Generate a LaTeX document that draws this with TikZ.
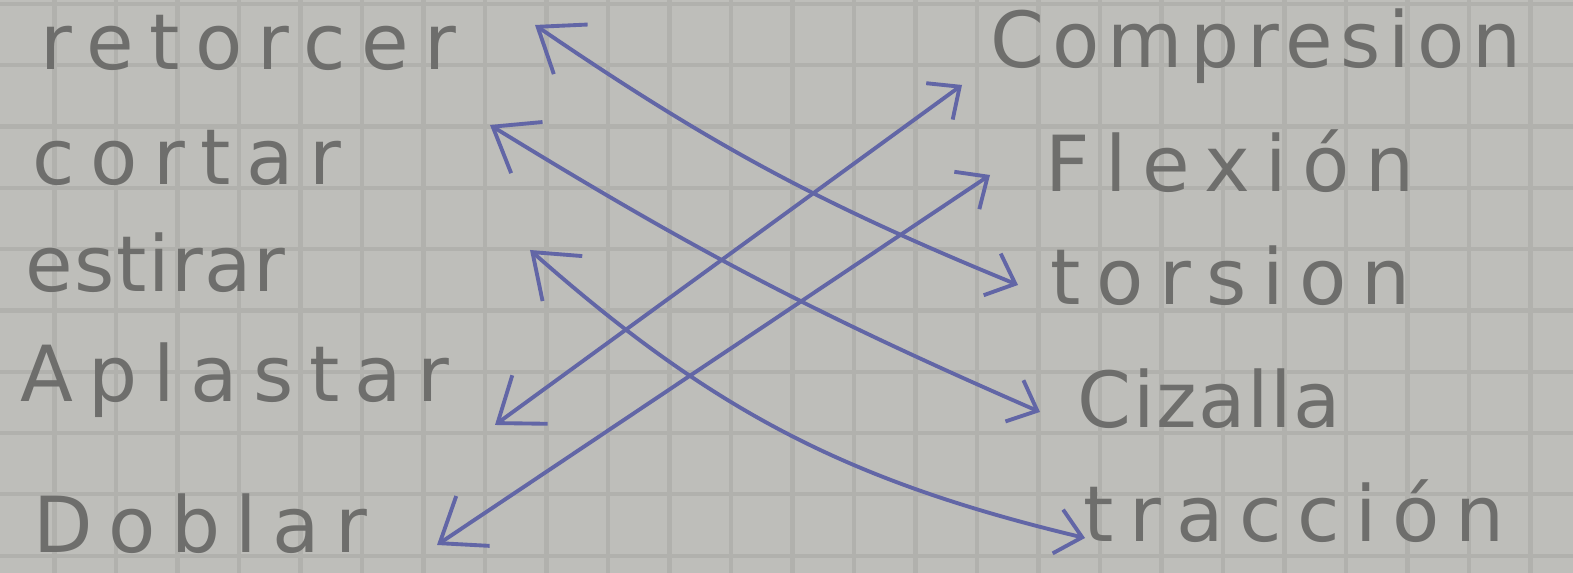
\documentclass[tikz,border=0pt]{standalone}
\usepackage{fontspec}
\setmainfont{DejaVu Sans}[LetterSpace=20]
\usepackage{xcolor}
\usetikzlibrary{arrows.meta}

\definecolor{paper}{RGB}{190,190,186}
\definecolor{gridline}{RGB}{177,177,173}
\definecolor{pencil}{RGB}{110,110,108}
\definecolor{pen}{RGB}{98,102,166}

\newcommand{\tight}{\addfontfeature{LetterSpace=2}}
\newcommand{\snug}{\addfontfeature{LetterSpace=10}}

\begin{document}
\begin{tikzpicture}[
    word/.style={inner sep=0pt, anchor=base west, font=\fontsize{22}{26}\selectfont, text=pencil},
    link/.style={draw=pen, line width=1.1pt,
        {Straight Barb[length=4mm,width=6mm]}-{Straight Barb[length=2.5mm,width=4.5mm]}}
]
    % Paper
    \fill[paper] (0,0) rectangle (15.73,5.73);
    \useasboundingbox (0,0) rectangle (15.73,5.73);
    \foreach \i in {0,...,25}
        \draw[gridline, line width=1.2pt] (0.545+0.615*\i,0) -- (0.545+0.615*\i,5.73);
    \foreach \j in {0,...,9}
        \draw[gridline, line width=1.2pt] (0,5.69-0.613*\j) -- (15.73,5.69-0.613*\j);

    % Actions
    \node[word] (retorcer) at (0.40, 5.03) {retorcer};
    \node[word] (cortar) at (0.32, 3.88) {cortar};
    \node[word] (estirar) at (0.25, 2.81) {\tight estirar};
    \node[word] (aplastar) at (0.20, 1.71) {Aplastar};
    \node[word] (doblar) at (0.33, 0.20) {Doblar};

    % Loads
    \node[word] (compresion) at (9.90, 5.05) {\snug Compresion};
    \node[word] (flexion) at (10.45, 3.81) {Flexión};
    \node[word] (torsion) at (10.50, 2.68) {torsion};
    \node[word] (cizalla) at (10.77, 1.45) {\tight Cizalla};
    \node[word] (traccion) at (10.83, 0.31) {tracción};

    % Matching
    \draw[link] ([shift={(4.95,0.45)}]retorcer.base west) to[bend right=6] ([shift={(-0.32,0.20)}]torsion.base west);
    \draw[link] ([shift={(4.58,0.60)}]cortar.base west) to[bend right=4] ([shift={(-0.37,0.16)}]cizalla.base west);
    \draw[link] ([shift={(5.05,0.42)}]estirar.base west) to[bend right=14] ([shift={(0.02,0.04)}]traccion.base west);
    \draw[link] ([shift={(4.75,-0.23)}]aplastar.base west) -- ([shift={(-0.28,-0.17)}]compresion.base west);
    \draw[link] ([shift={(4.04,0.08)}]doblar.base west) -- ([shift={(-0.55,0.17)}]flexion.base west);
\end{tikzpicture}
\end{document}
